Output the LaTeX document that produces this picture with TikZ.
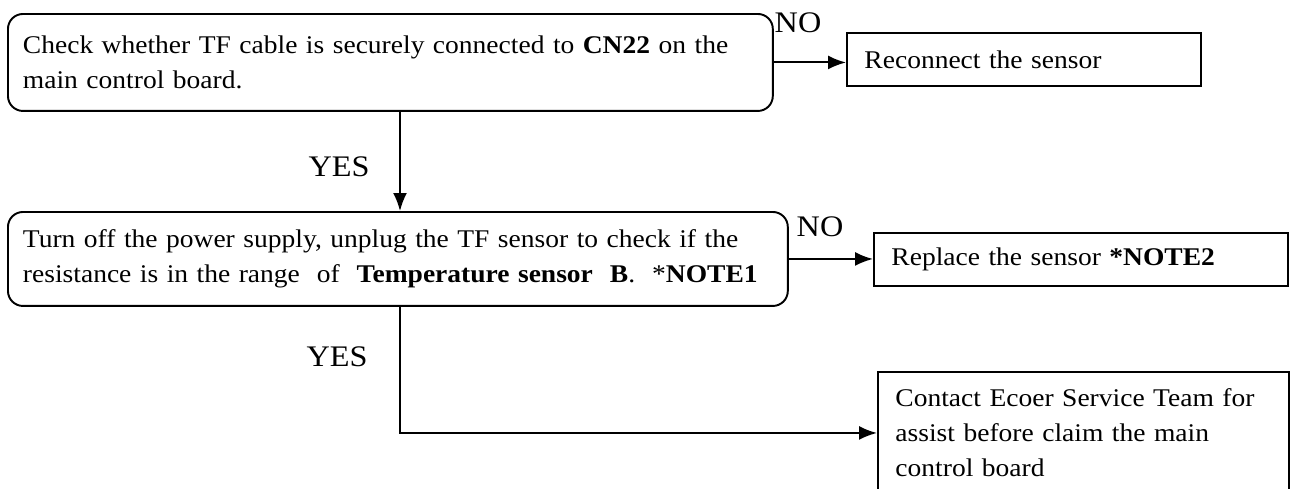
\documentclass[tikz,border=0pt]{standalone}
\usepackage{fontspec}
\setmainfont[FakeStretch=1.08]{Liberation Serif}
\usetikzlibrary{arrows.meta}
\begin{document}
\begin{tikzpicture}[x=0.02cm, y=-0.02cm, line width=1.1pt,
  body/.style={font=\fontsize{14.5}{19.9}\selectfont, align=left, anchor=north west},
  checkbox/.style={body, draw, rounded corners=0.3cm, inner xsep=0.3cm},
  actbox/.style={body, draw, inner xsep=0.35cm},
  lbl/.style={font=\fontsize{17}{20}\selectfont},
  arr/.style={-{Latex[length=0.36cm, width=0.28cm]}}]
\useasboundingbox (0,0) rectangle (1299,488);
\clip (0,0) rectangle (1299,488);

\node (chk) [checkbox, text width=14.7cm, minimum height=1.94cm] at (7,13)
  {Check whether TF cable is securely connected to \textbf{CN22} on the\\main control board.};
\node (recon) [actbox, text width=6.38cm, minimum height=1.06cm] at (846,32)
  {Reconnect the sensor};
\node (res) [checkbox, text width=15.0cm, minimum height=1.88cm] at (7,211)
  {Turn off the power supply, unplug the TF sensor to check if the\\resistance is in the range\ \ of\ \ \textbf{Temperature sensor\ \ B}.\ \ *\textbf{NOTE1}};
\node (repl) [actbox, text width=7.58cm, minimum height=1.06cm] at (873,232)
  {Replace the sensor \textbf{*NOTE2}};
\node (cont) [actbox, text width=7.52cm, minimum height=2.44cm] at (877,371)
  {Contact Ecoer Service Team for\\assist before claim the main\\control board};

\coordinate (vx) at (400,0);

\draw[arr] (chk.east) -- (chk.east -| recon.west);
\draw[arr] (chk.south -| vx) -- (res.north -| vx);
\draw[arr] (res.east) -- (res.east -| repl.west);
\draw[arr] (res.south -| vx) |- (cont.west);

\node (no1) [lbl] at (798,23) {NO};
\node (yes1) [lbl] at (339,167) {YES};
\node (no2) [lbl] at (820,227) {NO};
\node (yes2) [lbl] at (337,357) {YES};
\end{tikzpicture}
\end{document}
